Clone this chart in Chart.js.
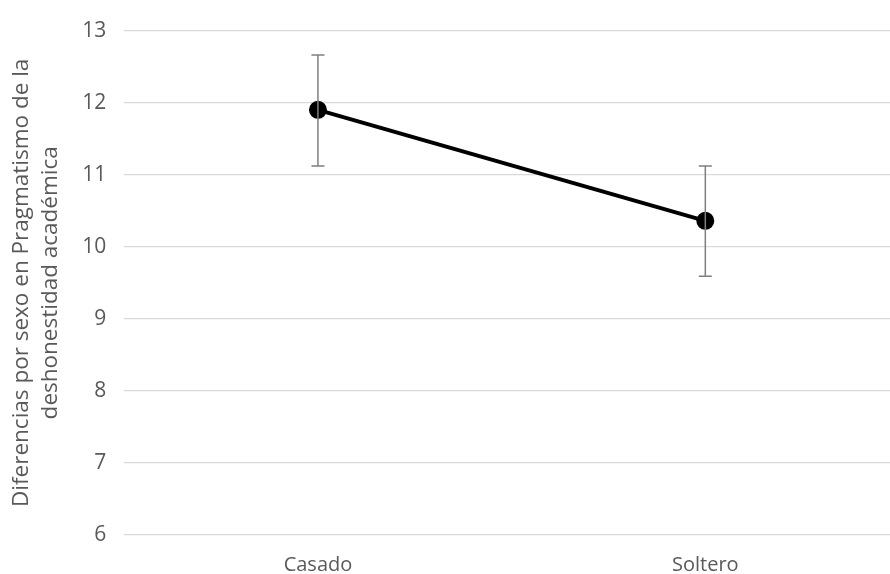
<!DOCTYPE html>
<html><head><meta charset="utf-8">
<script src="https://cdn.jsdelivr.net/npm/chart.js@4/dist/chart.umd.min.js"></script>
<style>html,body{margin:0;padding:0;overflow:hidden;background:#fff}canvas{display:block}</style>
</head><body><canvas id="c" width="910" height="574"></canvas>
<script>
const categories = ["Casado", "Soltero"];
const means = [11.90, 10.36];
const lowerBounds = [11.12, 9.59];
const upperBounds = [12.66, 11.12];
const yTicks = [6, 7, 8, 9, 10, 11, 12, 13];
const yTitle = ["Diferencias por sexo en Pragmatismo de la", "deshonestidad académica"];

const FONT = "'Open Sans', 'Liberation Sans', sans-serif";
const TXT = "#595959";

const errorBars = {
  id: 'errorBars',
  afterDatasetsDraw(chart) {
    const ctx = chart.ctx, x = chart.scales.x, y = chart.scales.y;
    ctx.save();
    ctx.strokeStyle = "#7f7f7f";
    ctx.lineWidth = 1.5;
    categories.forEach((c, i) => {
      const px = x.getPixelForValue(i);
      const t = y.getPixelForValue(upperBounds[i]);
      const b = y.getPixelForValue(lowerBounds[i]);
      ctx.beginPath();
      ctx.moveTo(px, t); ctx.lineTo(px, b);
      ctx.moveTo(px - 6.5, t); ctx.lineTo(px + 6.5, t);
      ctx.moveTo(px - 6.5, b); ctx.lineTo(px + 6.5, b);
      ctx.stroke();
    });
    ctx.restore();
  }
};

new Chart(document.getElementById('c'), {
  type: 'line',
  data: {
    labels: categories,
    datasets: [{
      data: means,
      borderColor: '#000',
      backgroundColor: '#000',
      borderWidth: 4,
      pointRadius: 7,
      pointHoverRadius: 7,
      tension: 0
    }]
  },
  options: {
    responsive: false,
    animation: false,
    layout: { padding: { top: 5, left: 8, right: 7, bottom: -21 } },
    plugins: { legend: { display: false }, tooltip: { enabled: false } },
    scales: {
      x: {
        offset: true,
        grid: { display: false, drawTicks: false },
        border: { display: false },
        ticks: { color: TXT, font: { family: FONT, size: 20 }, padding: 18, maxRotation: 0 }
      },
      y: {
        min: yTicks[0], max: yTicks[yTicks.length - 1],
        afterBuildTicks: s => { s.ticks = yTicks.map(v => ({ value: v })); },
        grid: { color: '#d9d9d9', lineWidth: 1.3, drawTicks: false },
        border: { display: false },
        ticks: { color: TXT, font: { family: FONT, size: 21 }, padding: 18 },
        title: { display: true, text: yTitle, color: TXT, font: { family: FONT, size: 22.5, lineHeight: 1.25 }, padding: { top: 0, bottom: 0 } }
      }
    }
  },
  plugins: [errorBars]
});
</script></body></html>
